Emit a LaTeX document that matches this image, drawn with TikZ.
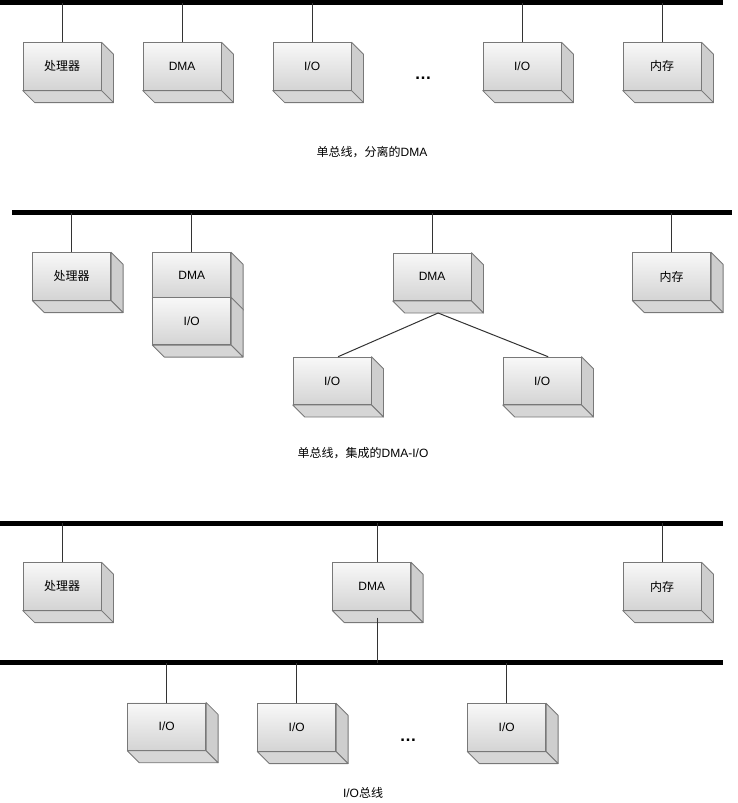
\documentclass[tikz,border=0pt]{standalone}
\usepackage{fontspec}
\setmainfont{Liberation Sans}
\newfontfamily\cjk{Noto Sans CJK SC}
\usetikzlibrary{calc}
\definecolor{edgegray}{RGB}{120,120,120}
\definecolor{facetop}{RGB}{248,248,248}
\definecolor{facebot}{RGB}{212,212,212}
\definecolor{sidegray}{RGB}{206,206,206}
\definecolor{botgray}{RGB}{214,214,214}
\tikzset{
  front/.style={draw=edgegray, line width=0.8pt, top color=facetop, bottom color=facebot,
    minimum width=78pt, minimum height=47.5pt, inner sep=0pt, anchor=north west,
    font=\fontsize{12}{14}\selectfont},
  sideface/.style={draw=edgegray, line width=0.8pt, fill=sidegray, line join=round},
  bus/.style={line width=5pt, draw=black},
  stem/.style={line width=1pt, draw=black!80},
  captxt/.style={font=\fontsize{12}{14}\selectfont},
  dotstxt/.style={font=\fontsize{17}{19}\selectfont\bfseries},
}
\newcommand\cubebox[5][]{%
  \node[front,#1] (#2) at (#3,#4) {#5};
  \filldraw[sideface] (#2.north east) -- ++(12,12) -- ($(#2.south east)+(12,12)$) -- (#2.south east) -- cycle;
  \filldraw[sideface,fill=botgray] (#2.south west) -- ($(#2.south west)+(12,12)$) -- ($(#2.south east)+(12,12)$) -- (#2.south east) -- cycle;
}
\begin{document}
\begin{tikzpicture}[x=1pt,y=-1pt]
\useasboundingbox (0,0) rectangle (737,803);
% ---------- panel 1 ----------
\coordinate (b1L) at (0,2.5);
\coordinate (b1R) at (722.5,2.5);
\draw[bus] (b1L) -- (b1R);
\cubebox{p1}{22.7}{42.3}{\cjk 处理器}
\cubebox{d1}{142.7}{42.3}{DMA}
\cubebox{ioa}{272.7}{42.3}{I/O}
\cubebox{iob}{482.7}{42.3}{I/O}
\cubebox{m1}{622.7}{42.3}{\cjk 内存}
\foreach \n in {p1,d1,ioa,iob,m1}{\draw[stem] (\n.north) -- (\n.north |- b1L);}
\node[dotstxt] (dots1) at (423,78) {…};
\node[captxt] (cap1) at (372,152) {{\cjk 单总线，分离的}DMA};
% ---------- panel 2 ----------
\coordinate (b2L) at (12.3,212.5);
\coordinate (b2R) at (731.7,212.5);
\draw[bus] (b2L) -- (b2R);
\cubebox{p2}{32.3}{252.3}{\cjk 处理器}
\cubebox[minimum height=45pt]{d2a}{152.3}{252.3}{DMA}
\cubebox[minimum height=47pt]{io2a}{152.3}{297.3}{I/O}
\cubebox{d2}{392.7}{252.7}{DMA}
\cubebox{m2}{632.3}{252.3}{\cjk 内存}
\cubebox{io2b}{292.7}{356.7}{I/O}
\cubebox{io2c}{502.7}{356.7}{I/O}
\foreach \n in {p2,d2a,d2,m2}{\draw[stem] (\n.north) -- (\n.north |- b2L);}
\coordinate (d2bot) at ($(d2.south)+(6,12)$);
\coordinate (io2bt) at ($(io2b.north)+(6,0)$);
\coordinate (io2ct) at ($(io2c.north)+(6,0)$);
\draw[stem] (d2bot) -- (io2bt);
\draw[stem] (d2bot) -- (io2ct);
\node[captxt] (cap2) at (363,453) {{\cjk 单总线，集成的}DMA-I/O};
% ---------- panel 3 ----------
\coordinate (b3L) at (0,523);
\coordinate (b3R) at (722.5,523);
\coordinate (b4L) at (0,662.5);
\coordinate (b4R) at (722.5,662.5);
\draw[bus] (b3L) -- (b3R);
\draw[bus] (b4L) -- (b4R);
\cubebox{p3}{22.7}{562.3}{\cjk 处理器}
\cubebox{d3}{332.3}{562.3}{DMA}
\cubebox{m3}{622.7}{562.3}{\cjk 内存}
\foreach \n in {p3,m3}{\draw[stem] (\n.north) -- (\n.north |- b3L);}
\coordinate (d3top) at ($(d3.north)+(5.5,0)$);
\coordinate (d3bot) at ($(d3.south)+(5.5,7)$);
\draw[stem] (d3top) -- (d3top |- b3L);
\draw[stem] (d3bot) -- (d3bot |- b4L);
\cubebox{io3a}{127.3}{702.5}{I/O}
\cubebox{io3b}{257.3}{703.3}{I/O}
\cubebox{io3c}{467.3}{703.3}{I/O}
\foreach \n in {io3a,io3b,io3c}{\draw[stem] (\n.north) -- (\n.north |- b4L);}
\node[dotstxt] (dots3) at (408,740) {…};
\node[captxt] (cap3) at (363,793) {I/O{\cjk 总线}};
\end{tikzpicture}
\end{document}
